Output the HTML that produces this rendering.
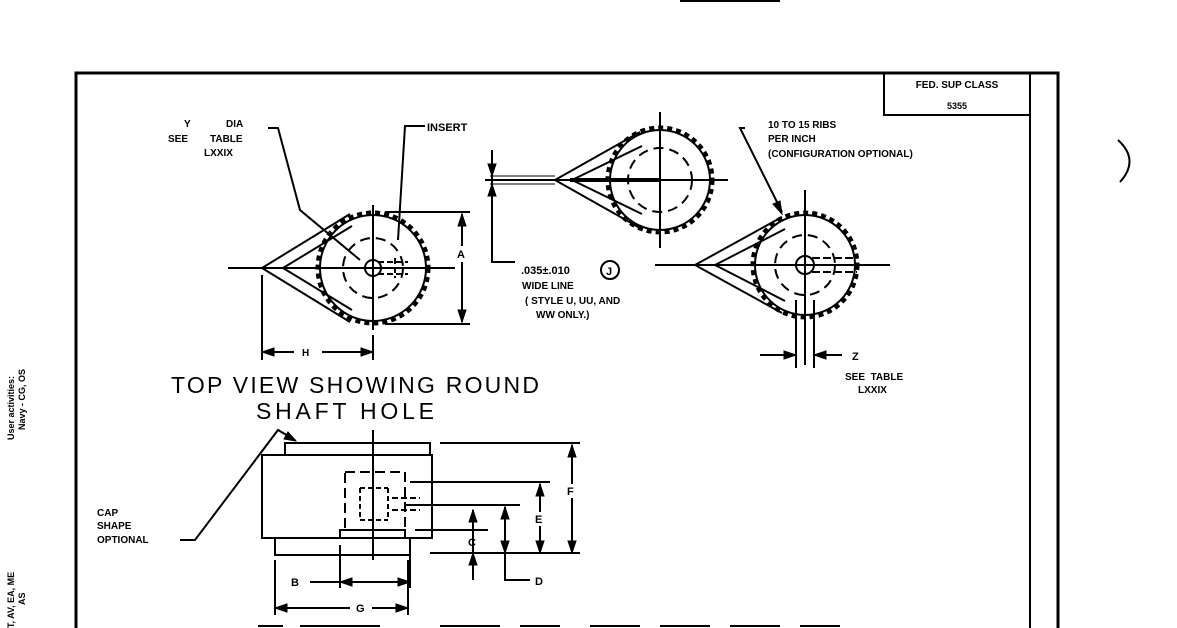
<!DOCTYPE html>
<html><head><meta charset="utf-8"><style>
html,body{margin:0;padding:0;background:#fff;}
svg{display:block}
text{font-family:"Liberation Sans",sans-serif;font-weight:bold;fill:#000;white-space:pre}
</style></head><body>
<svg width="1177" height="628" viewBox="0 0 1177 628" xmlns="http://www.w3.org/2000/svg" stroke="#000" fill="none">
<!-- frame -->
<path d="M76 628V73H1058V628" stroke-width="3"/>
<path d="M1030 73V628" stroke-width="2"/>
<path d="M884 73V115H1030" stroke-width="2"/>
<text x="957" y="88" font-size="10" text-anchor="middle" stroke="none">FED. SUP CLASS</text>
<text x="957" y="109" font-size="9" text-anchor="middle" stroke="none">5355</text>
<path d="M1118 140Q1140 160 1120 182" stroke-width="2"/>
<path d="M680 1H780" stroke-width="2"/>

<!-- Knob 1 -->
<g stroke-width="2">
<circle cx="373" cy="268" r="53"/>
<circle cx="373" cy="268" r="55" stroke-width="5" stroke-dasharray="5 4"/>
<path d="M262 268L350 214M262 268L350 322"/>
<path d="M283 268L352 226M283 268L352 310"/>
<circle cx="373" cy="268" r="30" stroke-dasharray="10 6"/>
<circle cx="373" cy="268" r="8"/>
<path d="M228 268H455M373 205V330"/>
<path d="M378 262h30M378 274h30M395 258v20" stroke-dasharray="6 3"/>
<path d="M385 212H470M385 324H470M462 214V322" />
<path d="M262 275V360M373 335V360M262 352H373"/>
</g>
<path d="M462 214l-4 12h8zM462 322l-4-12h8zM262 352l12-4v8zM373 352l-12-4v8z" fill="#000"/>
<rect x="455" y="246" width="14" height="16" fill="#fff" stroke="none"/>
<text x="457" y="258" font-size="11" stroke="none">A</text>
<rect x="294" y="345" width="28" height="12" fill="#fff" stroke="none"/>
<text x="302" y="356" font-size="10" stroke="none">H</text>
<text x="184" y="127" font-size="10" stroke="none">Y</text>
<text x="226" y="127" font-size="10" stroke="none">DIA</text>
<text x="168" y="142" font-size="10" stroke="none">SEE</text>
<text x="210" y="142" font-size="10" stroke="none">TABLE</text>
<text x="204" y="156" font-size="10" stroke="none">LXXIX</text>
<path d="M268 128H278L300 210L360 260" stroke-width="2"/>
<path d="M425 126H405L398 240" stroke-width="2"/>
<text x="427" y="131" font-size="11" stroke="none">INSERT</text>

<!-- Knob 2 -->
<g stroke-width="2">
<circle cx="660" cy="180" r="50"/>
<circle cx="660" cy="180" r="52" stroke-width="5" stroke-dasharray="5 4"/>
<path d="M555 180L640 132M555 180L640 228"/>
<path d="M572 180L642 146M572 180L642 214"/>
<circle cx="660" cy="180" r="32" stroke-dasharray="10 6"/>
<path d="M485 180H728M660 112V248"/>
<path d="M570 180H660" stroke-width="4"/>
<path d="M492 150V262H515M492 200V190"/>
<path d="M490 176H555M490 184H555" stroke-width="1"/>
</g>
<path d="M492 176l-4-12h8zM492 184l-4 12h8z" fill="#000"/>
<text x="521" y="274" font-size="11" stroke="none">.035±.010</text>
<circle cx="610" cy="270" r="9" stroke-width="2"/>
<text x="606" y="275" font-size="11" stroke="none">J</text>
<text x="522" y="289" font-size="10" stroke="none">WIDE LINE</text>
<text x="525" y="304" font-size="10" stroke="none">( STYLE U, UU, AND</text>
<text x="536" y="318" font-size="10" stroke="none">WW ONLY.)</text>

<!-- Knob 3 -->
<g stroke-width="2">
<circle cx="805" cy="265" r="50"/>
<circle cx="805" cy="265" r="52" stroke-width="5" stroke-dasharray="5 4"/>
<path d="M695 265L782 217M695 265L782 313"/>
<path d="M715 265L785 229M715 265L785 301"/>
<circle cx="805" cy="265" r="30" stroke-dasharray="10 6"/>
<circle cx="805" cy="265" r="9"/>
<path d="M655 265H890M805 190V365M796 300V368M814 300V368"/>
<path d="M812 258h45M812 272h45" stroke-dasharray="8 3"/>
<path d="M760 355H796M814 355H842"/>
<path d="M745 128H740L782 212"/>
</g>
<path d="M796 355l-12-4v8zM814 355l12-4v8zM782 214l-9-10 7-3z" fill="#000"/>
<text x="768" y="128" font-size="10" stroke="none">10 TO 15 RIBS</text>
<text x="768" y="142" font-size="10" stroke="none">PER INCH</text>
<text x="768" y="157" font-size="10" stroke="none">(CONFIGURATION OPTIONAL)</text>
<text x="852" y="360" font-size="11" stroke="none">Z</text>
<text x="845" y="380" font-size="10" stroke="none">SEE  TABLE</text>
<text x="858" y="393" font-size="10" stroke="none">LXXIX</text>

<text x="171" y="393" font-size="23" stroke="none" style="font-weight:normal" textLength="368" lengthAdjust="spacing">TOP VIEW SHOWING ROUND</text>
<text x="256" y="419" font-size="23" stroke="none" style="font-weight:normal" textLength="178" lengthAdjust="spacing">SHAFT HOLE</text>

<!-- side view -->
<g stroke-width="2">
<path d="M285 455V443H430V455"/>
<rect x="262" y="455" width="170" height="83"/>
<path d="M275 538V555H410V538M340 538V530H405V538"/>
<rect x="345" y="472" width="60" height="58" stroke-dasharray="10 5"/>
<path d="M373 430V560" />
<path d="M360 488H388M360 520H388M360 488V520M388 488V520" stroke-dasharray="5 3"/>
<path d="M392 498H420M392 510H420" stroke-dasharray="6 3"/>
<path d="M410 482H550M405 505H520M415 530H488M440 443H580M430 553H580"/>
<path d="M572 445V553M540 484V553M505 507V580H530M473 510V580"/>
<path d="M275 560V615M408 560V615M340 545V588M410 545V588M310 582H410M275 608H408"/>
<path d="M295 440L278 430L195 540H180"/>
</g>
<path d="M572 445l-4 12h8zM572 553l-4-12h8zM540 484l-4 12h8zM540 553l-4-12h8zM505 507l-4 12h8zM505 553l-4-12h8zM473 510l-4 12h8zM473 553l-4 12h8zM340 582l12-4v8zM410 582l-12-4v8zM275 608l12-4v8zM408 608l-12-4v8zM296 441l-12-2 4-7z" fill="#000"/>
<rect x="566" y="484" width="12" height="14" fill="#fff" stroke="none"/>
<text x="567" y="495" font-size="11" stroke="none">F</text>
<rect x="534" y="512" width="12" height="14" fill="#fff" stroke="none"/>
<text x="535" y="523" font-size="11" stroke="none">E</text>
<text x="468" y="546" font-size="11" stroke="none">C</text>
<text x="535" y="585" font-size="11" stroke="none">D</text>
<text x="291" y="586" font-size="11" stroke="none">B</text>
<rect x="350" y="600" width="22" height="14" fill="#fff" stroke="none"/>
<text x="356" y="612" font-size="11" stroke="none">G</text>
<text x="97" y="516" font-size="10" stroke="none">CAP</text>
<text x="97" y="529" font-size="10" stroke="none">SHAPE</text>
<text x="97" y="543" font-size="10" stroke="none">OPTIONAL</text>
<path d="M258 626h25M300 626h80M440 626h60M520 626h40M590 626h50M660 626h50M730 626h50M800 626h40" stroke-width="2"/>

<!-- left margin text -->
<text transform="translate(14,440) rotate(-90)" font-size="9" stroke="none">User activities:</text>
<text transform="translate(25,430) rotate(-90)" font-size="9" stroke="none">Navy - CG, OS</text>
<text transform="translate(14,628) rotate(-90)" font-size="9" stroke="none">T, AV, EA, ME</text>
<text transform="translate(25,605) rotate(-90)" font-size="9" stroke="none">AS</text>
</svg>
</body></html>
